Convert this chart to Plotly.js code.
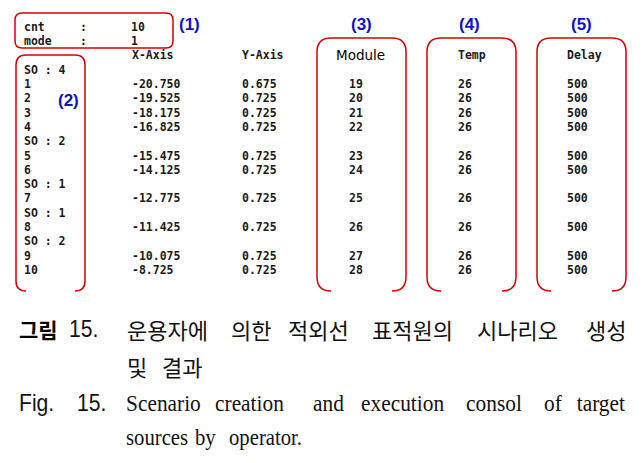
<!DOCTYPE html>
<html><head><meta charset="utf-8">
<script src="https://cdn.plot.ly/plotly-3.0.1.min.js"></script>
<style>html,body{margin:0;padding:0;background:#fff;}</style>
</head><body><div id="chart" style="width:642px;height:463px"></div>
<script>
// ---------------- data ----------------
const headerKeys = ["cnt", "mode"];
const headerVals = ["10", "1"];
const columnTitles = ["X-Axis", "Y-Axis", "Module", "Temp", "Delay"];
const soCounts = [4, 2, 1, 1, 2];
const rowIds = [1, 2, 3, 4, 5, 6, 7, 8, 9, 10];
const xAxisVals = ["-20.750", "-19.525", "-18.175", "-16.825", "-15.475", "-14.125", "-12.775", "-11.425", "-10.075", "-8.725"];
const yAxisVals = ["0.675", "0.725", "0.725", "0.725", "0.725", "0.725", "0.725", "0.725", "0.725", "0.725"];
const moduleVals = [19, 20, 21, 22, 23, 24, 25, 26, 27, 28];
const tempVals = [26, 26, 26, 26, 26, 26, 26, 26, 26, 26];
const delayVals = [500, 500, 500, 500, 500, 500, 500, 500, 500, 500];
const markerLabels = ["(1)", "(2)", "(3)", "(4)", "(5)"];
const captionKo1 = ["그림", "15.", "운용자에", "의한", "적외선", "표적원의", "시나리오", "생성"];
const captionKo2 = ["및", "결과"];
const captionEn1 = ["Fig.", "15.", "Scenario", "creation", "and", "execution", "consol", "of", "target"];
const captionEn2 = ["sources", "by", "operator."];

// ---------------- layout helpers ----------------
const LINE0 = 28, LINE_H = 14.3;
const lineY = L => LINE0 + L * LINE_H;

const soLines = [], soTexts = [], rowLines = [];
let L = 3;
soCounts.forEach(n => {
  soLines.push(lineY(L)); soTexts.push("SO : " + n); L++;
  for (let k = 0; k < n; k++) { rowLines.push(lineY(L)); L++; }
});

const mono = {family: "DejaVu Sans Mono", size: 11.5, color: "#1a1a1a", weight: "bold"};
function textTrace(xpos, ys, texts, font) {
  return {type: "scatter", mode: "text", x: ys.map(() => xpos), y: ys, text: texts.map(String),
          textposition: "middle right", textfont: font || mono, hoverinfo: "skip", showlegend: false, cliponaxis: false};
}
const colX = {label: 24, colon: 80, hval: 131, xa: 132, ya: 242, modHead: 336, mod: 349, temp: 458, delay: 567};

const traces = [
  textTrace(colX.label, [lineY(0), lineY(1)], headerKeys),
  textTrace(colX.colon, [lineY(0), lineY(1)], [":", ":"]),
  textTrace(colX.hval, [lineY(0), lineY(1)], headerVals),
  textTrace(colX.xa, [lineY(2)], [columnTitles[0]]),
  textTrace(colX.ya, [lineY(2)], [columnTitles[1]]),
  textTrace(colX.modHead, [lineY(2)], [columnTitles[2]], {family: "DejaVu Sans", size: 13.5, color: "#000"}),
  textTrace(colX.temp, [lineY(2)], [columnTitles[3]]),
  textTrace(colX.delay, [lineY(2)], [columnTitles[4]]),
  textTrace(colX.label, soLines, soTexts),
  textTrace(colX.label, rowLines, rowIds),
  textTrace(colX.xa, rowLines, xAxisVals),
  textTrace(colX.ya, rowLines, yAxisVals),
  textTrace(colX.mod, rowLines, moduleVals),
  textTrace(colX.temp, rowLines, tempVals),
  textTrace(colX.delay, rowLines, delayVals)
];

// rounded red boxes
function roundBox(l, t, r, b, rad, closed) {
  let p = `M${l + rad},${b} Q${l},${b} ${l},${b - rad} L${l},${t + rad} Q${l},${t} ${l + rad},${t} ` +
          `L${r - rad},${t} Q${r},${t} ${r},${t + rad} L${r},${b - rad} Q${r},${b} ${r - rad},${b}`;
  if (closed) p += " Z";
  return {type: "path", xref: "x", yref: "y", path: p, line: {color: "#d80000", width: 1.5}};
}
const shapes = [
  roundBox(15, 13, 173, 48, 7, true),
  roundBox(16, 55, 85, 291, 10, false),
  roundBox(317, 38, 406, 291, 14, false),
  roundBox(427, 38, 516, 291, 14, false),
  roundBox(537, 38, 626, 291, 14, false)
];

// annotations
const annotations = [];
const annScale = [];
const labelPos = [[189, 24], [68, 100], [361, 24], [469, 24], [581, 24]];
markerLabels.forEach((t, i) => {
  annotations.push({
    xref: "x", yref: "y", x: labelPos[i][0], y: labelPos[i][1], text: "<b>" + t + "</b>",
    showarrow: false, xanchor: "center", yanchor: "middle",
    font: {family: "Liberation Sans", size: 17, color: "#1010c8"}
  });
  annScale.push(null);
});

function addWords(words, xs, y, fontFor, scaleFor, lastRight) {
  words.forEach((w, i) => {
    const right = lastRight && i === words.length - 1;
    annotations.push({
      xref: "x", yref: "y", x: xs[i], y: y, text: w, showarrow: false,
      xanchor: right ? "right" : "left", yanchor: "middle", font: fontFor(i)
    });
    annScale.push(scaleFor ? {s: scaleFor(i), origin: right ? "right" : "left"} : null);
  });
}
const koFont = {family: "Noto Sans CJK KR", size: 22, color: "#111"};
const sansNum = {family: "Liberation Sans", size: 23, color: "#111"};
const serif = {family: "Liberation Serif", size: 23, color: "#111"};
addWords(captionKo1, [17, 67, 125, 229, 286, 370, 475, 628], 329,
  i => i === 0 ? {family: "Noto Sans CJK KR", size: 21, color: "#000", weight: "bold"} : (i === 1 ? sansNum : koFont),
  i => i === 1 ? 0.92 : null, true);
addWords(captionKo2, [125, 160], 366, () => koFont);
addWords(captionEn1, [17, 75, 124, 213, 311, 359, 464, 542, 628], 403, i => i < 2 ? sansNum : serif,
  i => i < 2 ? 0.92 : 0.93, true);
addWords(captionEn2, [124, 193, 227], 437, () => serif, () => 0.9, false);

const layout = {
  width: 642, height: 463, margin: {l: 0, r: 0, t: 0, b: 0},
  paper_bgcolor: "#fff", plot_bgcolor: "#fff",
  xaxis: {range: [0, 642], visible: false, fixedrange: true},
  yaxis: {range: [463, 0], visible: false, fixedrange: true},
  shapes: shapes, annotations: annotations, showlegend: false
};
Plotly.newPlot("chart", traces, layout, {displayModeBar: false, staticPlot: true}).then(gd => {
  gd.querySelectorAll("g.annotation").forEach(g => {
    const idx = +g.getAttribute("data-index");
    const sc = annScale[idx];
    if (!sc || sc.s == null) return;
    const t = g.querySelector("text.annotation-text");
    if (!t) return;
    t.style.transformBox = "fill-box";
    t.style.transformOrigin = sc.origin + " center";
    t.style.transform = "scaleX(" + sc.s + ")";
  });
});
</script></body></html>
